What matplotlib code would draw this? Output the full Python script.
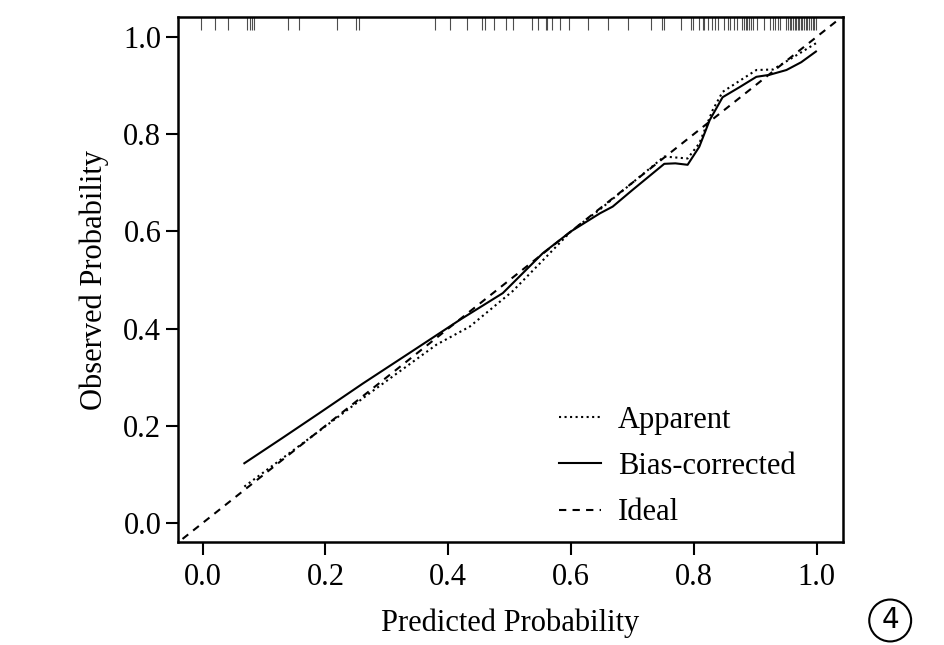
import numpy as np
import matplotlib
matplotlib.use("Agg")
from matplotlib import pyplot as plt
from matplotlib.transforms import blended_transform_factory

plt.rcParams["font.family"] = ["Liberation Serif", "DejaVu Serif"]
plt.rcParams["font.size"] = 22

# apparent calibration curve
app_x = [0.068, 0.163, 0.272, 0.381, 0.435, 0.505, 0.55, 0.60, 0.647, 0.70,
         0.752, 0.790, 0.809, 0.831, 0.847, 0.875, 0.902, 0.929, 0.972, 0.999]
app_y = [0.075, 0.164, 0.267, 0.367, 0.404, 0.477, 0.535, 0.600, 0.645, 0.700,
         0.754, 0.750, 0.781, 0.850, 0.887, 0.910, 0.932, 0.933, 0.966, 0.987]

# bias-corrected calibration curve
bc_x = [0.068, 0.13, 0.19, 0.261, 0.348, 0.419, 0.489, 0.554, 0.60, 0.647,
        0.668, 0.70, 0.752, 0.77, 0.790, 0.809, 0.826, 0.847, 0.875, 0.902,
        0.923, 0.951, 0.975, 0.999]
bc_y = [0.123, 0.175, 0.226, 0.287, 0.359, 0.418, 0.473, 0.555, 0.600, 0.637,
        0.651, 0.685, 0.739, 0.740, 0.737, 0.774, 0.829, 0.876, 0.897, 0.918,
        0.922, 0.932, 0.948, 0.970]

# rug of predicted probabilities
rug = [-0.002, 0.021, 0.041, 0.072, 0.077, 0.081, 0.083, 0.139, 0.157, 0.219,
       0.250, 0.254, 0.379, 0.403, 0.430, 0.455, 0.460, 0.475, 0.494, 0.505,
       0.536, 0.547, 0.559, 0.561, 0.569, 0.582, 0.596, 0.628, 0.661, 0.693,
       0.731, 0.749, 0.752, 0.779, 0.795, 0.799, 0.808, 0.815, 0.817, 0.824,
       0.829, 0.834, 0.840, 0.849, 0.855, 0.859, 0.865, 0.870, 0.879, 0.882,
       0.885, 0.887, 0.890, 0.893, 0.896, 0.903, 0.915, 0.924, 0.929, 0.933,
       0.937, 0.940, 0.951, 0.954, 0.957, 0.959, 0.962, 0.965, 0.967, 0.970,
       0.972, 0.975, 0.977, 0.980, 0.983, 0.985, 0.988, 0.991, 0.994, 0.996,
       0.999]

ticks = [0.0, 0.2, 0.4, 0.6, 0.8, 1.0]

fig = plt.figure(figsize=(9.45, 6.45), dpi=100)
ax = fig.add_axes([0.1884, 0.1597, 0.7036, 0.8139])

ax.plot(app_x, app_y, ":", color="black", lw=1.5, label="Apparent")
ax.plot(bc_x, bc_y, "-", color="black", lw=1.5, label="Bias-corrected")
ax.plot([-0.05, 1.05], [-0.05, 1.05], "--", color="black", lw=1.5,
        dashes=(3.5, 3), label="Ideal")

trans = blended_transform_factory(ax.transData, ax.transAxes)
ax.vlines(rug, 0.975, 1.0, transform=trans, color="0.3", lw=0.8)

ax.set_xlim(-0.04, 1.043)
ax.set_ylim(-0.039, 1.041)
ax.set_xticks(ticks)
ax.set_yticks(ticks)
ax.set_xticklabels(["%.1f" % t for t in ticks])
ax.set_yticklabels(["%.1f" % t for t in ticks])
ax.tick_params(length=9, width=1.5, pad=3)
ax.tick_params(axis="x", pad=6)
for s in ax.spines.values():
    s.set_linewidth(1.8)

ax.set_xlabel("Predicted Probability", labelpad=12)
ax.set_ylabel("Observed Probability", labelpad=10)

ax.legend(loc="upper left", bbox_to_anchor=(0.555, 0.283), frameon=False,
          handlelength=1.37, handletextpad=0.55, labelspacing=0.57,
          borderaxespad=0)

fig.text(0.942, 0.038, "4", family="DejaVu Sans", fontsize=20,
         ha="center", va="center",
         bbox=dict(boxstyle="circle,pad=0.25", fc="white", ec="black", lw=1.5))

fig.savefig("out.png", dpi=100)
